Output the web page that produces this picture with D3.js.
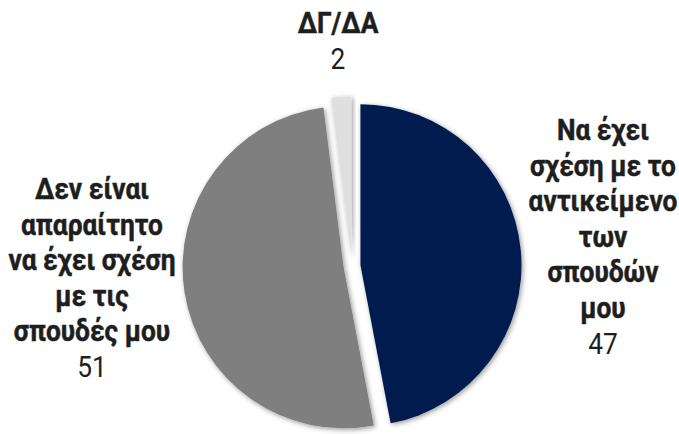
<!DOCTYPE html>
<html>
<head>
<meta charset="utf-8">
<script src="https://cdn.jsdelivr.net/npm/d3@7"></script>
<style>
  body { margin: 0; background: #fff; }
  svg { display: block; }
</style>
</head>
<body>
<svg width="679" height="434"></svg>
<script>
// data
const categories = [
  'Να έχει σχέση με το αντικείμενο των σπουδών μου',
  'Δεν είναι απαραίτητο να έχει σχέση με τις σπουδές μου',
  'ΔΓ/ΔΑ'
];
const values = [47, 51, 2];
const labelLines = [
  ['Να έχει', 'σχέση με το', 'αντικείμενο', 'των', 'σπουδών', 'μου'],
  ['Δεν είναι', 'απαραίτητο', 'να έχει σχέση', 'με τις', 'σπουδές μου'],
  ['ΔΓ/ΔΑ']
];
const colors = ['#021b50', '#7f7f7f', '#dfdfdf'];

const svg = d3.select('svg');
const width = +svg.attr('width');
const height = +svg.attr('height');

// pie layout
const cx = 352, cy = 266, radius = 161, explode = 8.5;
// where each label block starts (x centre, first baseline)
const labelPos = [
  {x: 603, y: 140},
  {x: 92, y: 199},
  {x: 338, y: 33}
];
const lineStep = 35.6;

const defs = svg.append('defs');
const shadow = defs.append('filter').attr('id', 'shadow')
  .attr('x', '-20%').attr('y', '-20%').attr('width', '140%').attr('height', '140%');
shadow.append('feDropShadow')
  .attr('dx', 1.5).attr('dy', 1.5).attr('stdDeviation', 2.4)
  .attr('flood-color', '#000').attr('flood-opacity', 0.4);

const data = categories.map((c, i) => ({name: c, value: values[i], i}));

const pie = d3.pie().sort(null).value(d => d.value);
const arc = d3.arc().innerRadius(0).outerRadius(radius);

const g = svg.append('g').attr('transform', `translate(${cx},${cy})`);

g.selectAll('path').data(pie(data))
  .enter().append('path')
    .attr('d', arc)
    .attr('fill', d => colors[d.data.i])
    .attr('filter', 'url(#shadow)')
    .attr('transform', d => {
      const a = (d.startAngle + d.endAngle) / 2;
      return `translate(${explode * Math.sin(a)},${-explode * Math.cos(a)})`;
    });

// labels: bold name lines then the value in regular weight
const labels = svg.selectAll('g.label').data(data)
  .enter().append('g')
    .attr('class', 'label')
    .attr('transform', d => `translate(${labelPos[d.i].x},${labelPos[d.i].y})`);

const inner = labels.append('g');
const text = inner.append('text')
  .attr('text-anchor', 'middle')
  .attr('font-family', 'Roboto, "Liberation Sans", sans-serif')
  .attr('font-size', 29)
  .attr('fill', '#1e1e1e');

text.each(function(d) {
  const t = d3.select(this);
  const lines = labelLines[d.i];
  lines.forEach((l, k) => {
    t.append('tspan').attr('x', 0).attr('y', k * lineStep)
      .attr('font-weight', 700)
      .attr('stroke', '#1e1e1e').attr('stroke-width', 0.5)
      .text(l);
  });
  t.append('tspan').attr('x', 0).attr('y', lines.length * lineStep)
    .attr('font-weight', 400).text(d.value);
});

// condensed look: squeeze horizontally so the widest left line is ~167px
let wide = 0;
text.filter(d => d.i === 1).selectAll('tspan').each(function() {
  wide = Math.max(wide, this.getComputedTextLength());
});
const sx = wide > 0 ? 167 / wide : 1;
inner.attr('transform', `scale(${sx},1)`);
</script>
</body>
</html>
